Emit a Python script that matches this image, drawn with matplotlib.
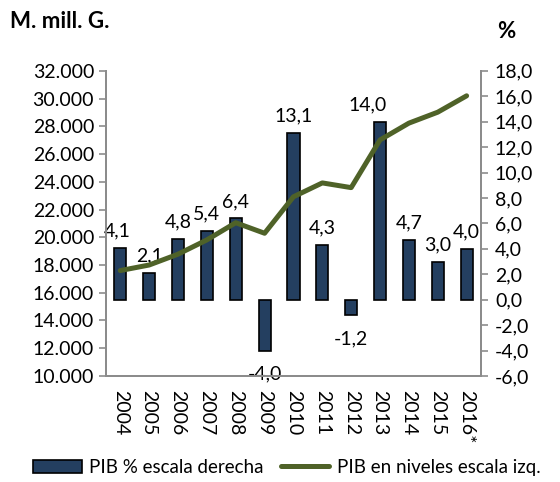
import matplotlib
matplotlib.use("Agg")
import matplotlib.pyplot as plt
from matplotlib.patches import Patch
from matplotlib.lines import Line2D
from matplotlib.ticker import FuncFormatter

plt.rcParams['font.family'] = ['Lato', 'DejaVu Sans']

years = ['2004', '2005', '2006', '2007', '2008', '2009', '2010', '2011',
         '2012', '2013', '2014', '2015', '2016*']
pib_pct = [4.1, 2.1, 4.8, 5.4, 6.4, -4.0, 13.1, 4.3, -1.2, 14.0, 4.7, 3.0, 4.0]
pib_niveles = [17600, 18000, 18780, 19810, 21050, 20290, 22920, 23920,
               23580, 27020, 28230, 29020, 30200]
pct_labels = ['4,1', '2,1', '4,8', '5,4', '6,4', '-4,0', '13,1', '4,3',
              '-1,2', '14,0', '4,7', '3,0', '4,0']

bar_color = '#243F60'
line_color = '#4F6228'
spine_color = '#8C8C8C'

fig = plt.figure(figsize=(5.6, 4.82), dpi=100)
ax = fig.add_axes([0.189, 0.22, 0.67, 0.633])
ax2 = ax.twinx()

x = list(range(len(years)))

# bars on right axis
ax2.bar(x, pib_pct, width=0.42, color=bar_color, edgecolor='black',
        linewidth=1.2, zorder=2)
# line on left axis (drawn above bars)
ax.set_zorder(ax2.get_zorder() + 1)
ax.patch.set_visible(False)
ax.plot(x, pib_niveles, color=line_color, lw=3.6, solid_capstyle='round',
        solid_joinstyle='round', zorder=3)

ax.set_xlim(-0.5, len(years) - 0.5)
ax.set_ylim(10000, 32000)
ax.set_yticks(range(10000, 32001, 2000))
ax.yaxis.set_major_formatter(FuncFormatter(lambda v, p: f"{int(v):,}".replace(',', '.')))
ax2.set_ylim(-6, 18)
ax2.set_yticks(range(-6, 19, 2))
ax2.yaxis.set_major_formatter(FuncFormatter(lambda v, p: f"{v:.1f}".replace('.', ',')))

ax.set_xticks(x)
ax.set_xticklabels(years, rotation=-90, fontsize=14)
ax.tick_params(axis='x', length=0, pad=10)
ax.tick_params(axis='y', labelsize=14, color=spine_color, length=5, width=1.2)
ax2.tick_params(axis='y', labelsize=14, color=spine_color, length=5, width=1.2,
                pad=5)

for a in (ax, ax2):
    a.spines['top'].set_visible(False)
    for s in ('left', 'right', 'bottom'):
        a.spines[s].set_color(spine_color)
        a.spines[s].set_linewidth(1.4)

# data labels
x_shift = {9: -9, 0: -2}
for i, (v, lab) in enumerate(zip(pib_pct, pct_labels)):
    dx = x_shift.get(i, 0)
    if v >= 0:
        ax2.annotate(lab, (i, v), xytext=(dx, 6), textcoords='offset points',
                     ha='center', va='bottom', fontsize=14, zorder=5)
    else:
        ax2.annotate(lab, (i, v), xytext=(dx, -11), textcoords='offset points',
                     ha='center', va='top', fontsize=14, zorder=5)

fig.text(0.018, 0.955, 'M. mill. G.', fontsize=16, fontweight='bold',
         ha='left', va='center')
fig.text(0.904, 0.935, '%', fontsize=16, fontweight='bold',
         ha='center', va='center')

handles = [Patch(facecolor=bar_color, edgecolor='black', linewidth=1.2),
           Line2D([0], [0], color=line_color, lw=3.6, solid_capstyle='round')]
fig.legend(handles, ['PIB % escala derecha', 'PIB en niveles escala izq.'],
           loc='center', bbox_to_anchor=(0.512, 0.03), ncol=2, frameon=False,
           fontsize=13.5, handlelength=2.6, handletextpad=0.4, columnspacing=0.9)

fig.savefig('out.png', dpi=100)
